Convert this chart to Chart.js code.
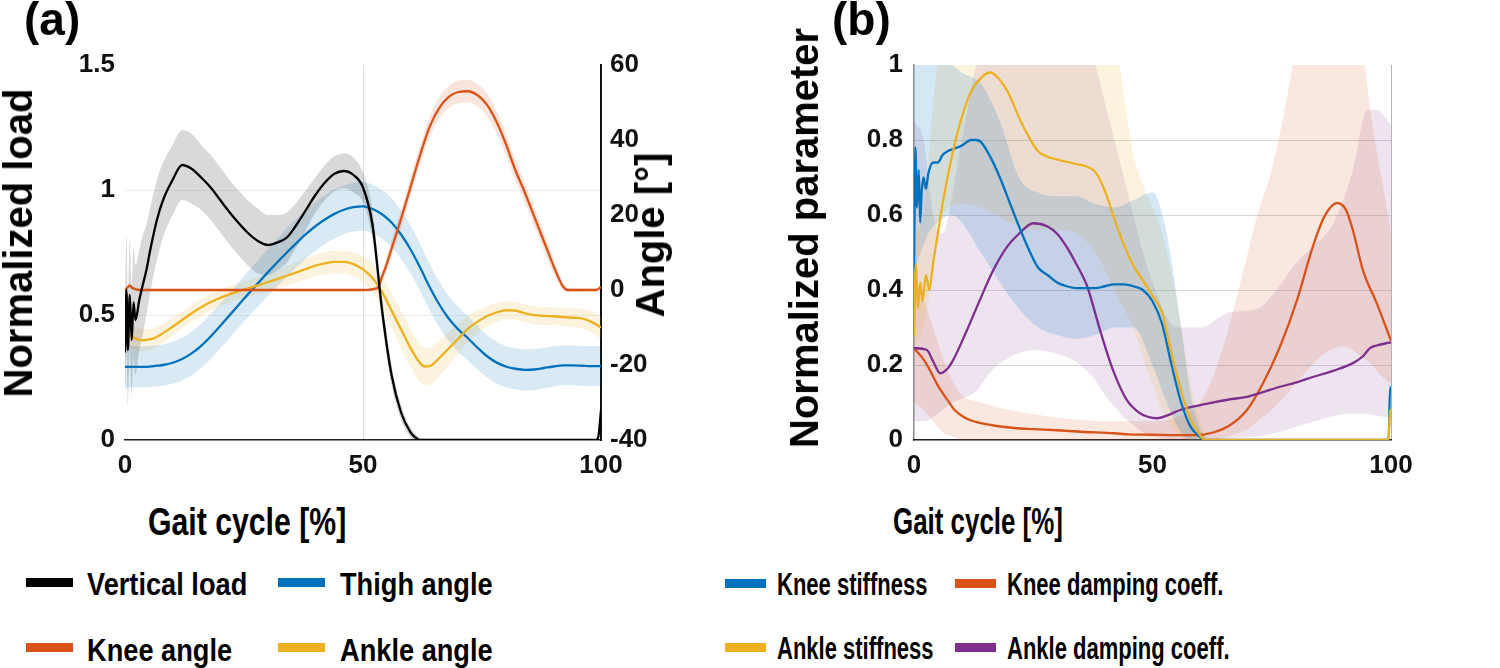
<!DOCTYPE html>
<html><head><meta charset="utf-8">
<script src="https://cdn.jsdelivr.net/npm/chart.js@4.4.0/dist/chart.umd.min.js"></script>
<style>
html,body{margin:0;padding:0;background:#fff;}
#wrap{position:relative;width:1500px;height:668px;overflow:hidden;background:#fff;font-family:'Liberation Sans',Arial,Helvetica,sans-serif;font-weight:bold;color:#000;}
canvas{position:absolute;top:0;}
.t{position:absolute;white-space:nowrap;line-height:1;transform-origin:0 0;}
.r{position:absolute;white-space:nowrap;line-height:1;transform:translate(-50%,-50%) rotate(-90deg);}
.sw{position:absolute;}
</style></head><body>
<div id="wrap">
<canvas id="ca" width="700" height="500" style="left:0px"></canvas>
<canvas id="cb" width="700" height="500" style="left:740px"></canvas>
<div class="t" style="left:24px;top:-4px;font-size:46px">(a)</div>
<div class="t" style="left:832px;top:-4px;font-size:46px">(b)</div>
<div class="r" style="left:18px;top:243px;font-size:40px">Normalized load</div>
<div class="r" style="left:650px;top:235px;font-size:40px">Angle [°]</div>
<div class="r" style="left:804px;top:238px;font-size:40px">Normalized parameter</div>
<div class="t" style="left:148px;top:502px;font-size:39px;transform:scaleX(0.775)">Gait cycle [%]</div>
<div class="t" style="left:893px;top:503px;font-size:37px;transform:scaleX(0.70)">Gait cycle [%]</div>
<div id="legends"></div>
</div>
<script>
// ---------- Panel (a) data ----------
const loadX = [0,0.3,0.6,1,1.4,1.8,2.2,3,3.6,4.5,5.3,6.7,8,10,12,14,16,18,20,22,24,26,28,30,32,34,36,38,40,42,44,46,48,50,52,54,56,58,60,61,62,70,80,90,99,99.5,100];
const loadY = [0.35,0.6,0.36,0.58,0.4,0.55,0.48,0.56,0.61,0.68,0.76,0.88,0.96,1.04,1.10,1.085,1.05,1.01,0.96,0.91,0.865,0.825,0.795,0.78,0.79,0.81,0.86,0.92,0.98,1.03,1.065,1.076,1.06,1.01,0.86,0.52,0.26,0.11,0.03,0.01,0,0,0,0,0,0.02,0.12];
const loadSD = [0.22,0.22,0.22,0.22,0.22,0.22,0.22,0.2,0.2,0.18,0.17,0.16,0.15,0.14,0.14,0.14,0.13,0.13,0.13,0.13,0.13,0.13,0.13,0.12,0.11,0.1,0.09,0.08,0.07,0.07,0.07,0.07,0.07,0.06,0.06,0.05,0.04,0.03,0.02,0.015,0.005,0,0,0,0,0,0];

const kneeX = [0,0.5,1,1.5,2,3,50,53,54,55,56,57,58,60,62,64,66,68,70,72,74,76,78,80,82,84,86,88,90,91,92,93,99,100];
const kneeY = [0,0.6,1.2,0.6,0.3,0,0,0.5,3.5,7,11,15,19,27.5,36,43.5,48.5,51.5,52.8,53,52,49.5,45,39,32,26,19.5,13,6.5,3.5,1,0,0,0.8];
const kneeSD = [0.4,0.4,0.4,0.4,0.3,0.3,0.3,0.8,1.5,2,2.3,2.5,2.5,2.6,2.7,2.8,2.9,3,3,3,3,3,3,2.9,2.8,2.7,2.6,2.5,2,1.5,1,0.5,0.4,0.5];

const thighX = [0,2,4,6,8,10,12,14,16,18,20,22,24,26,28,30,32,34,36,38,40,42,44,46,48,50,52,54,56,58,60,62,64,66,68,70,72,74,76,78,80,82,84,86,88,90,92,94,96,98,100];
const thighY = [-20.5,-20.5,-20.5,-20.3,-20,-19.4,-18.4,-16.9,-14.9,-12.4,-9.6,-6.7,-3.8,-0.9,1.9,4.7,7.4,10,12.5,14.9,17,18.8,20.3,21.4,22.1,22.3,21.6,20.2,18,14.8,10.8,6,0.8,-3.8,-7.6,-10.5,-12.8,-15.3,-17.6,-19.3,-20.4,-21,-21.3,-21.2,-20.8,-20.4,-20.1,-20.1,-20.2,-20.3,-20.3];
const thighSD = [5.5,5.5,5.5,5.5,5.5,5.6,5.7,5.8,5.9,6,6,6,6,6.1,6.2,6.3,6.4,6.5,6.5,6.5,6.5,6.5,6.5,6.5,6.5,6.5,6.5,6.5,6.5,6.5,6.4,6.3,6.2,6.1,6,6,5.9,5.8,5.7,5.6,5.5,5.5,5.5,5.5,5.4,5.4,5.3,5.3,5.3,5.3,5.3];

const ankleX = [0,1,2,3,4,5,6,8,10,12,14,16,18,20,22,24,26,28,30,32,34,36,38,40,42,44,46,48,50,52,54,56,58,60,62,63,64,66,68,70,72,74,76,78,80,82,84,86,88,90,92,94,96,98,100];
const ankleY = [-10.7,-12,-12.8,-13.3,-13.4,-13.2,-12.9,-11.5,-9.8,-8,-6.2,-4.6,-3.2,-2.1,-1.1,-0.3,0.5,1.3,2.1,2.9,3.8,4.7,5.6,6.5,7.1,7.5,7.5,6.9,5.5,3.2,-0.5,-5.5,-10.5,-15.5,-19.5,-20.4,-20.3,-18.2,-15.6,-13,-10.4,-8.5,-7,-6,-5.4,-5.5,-6.2,-6.7,-6.9,-7,-7.2,-7.4,-7.6,-8.5,-10];
const ankleSD = [3,3,3,3,3,2.8,2.7,2.5,2.4,2.3,2.2,2.2,2.2,2.2,2.2,2.2,2.2,2.3,2.4,2.5,2.6,2.7,2.8,2.9,3,3,3,3.2,3.5,3.8,4.2,4.6,5,5,5,5,5,4.8,4.4,4,3.5,3,2.7,2.5,2.4,2.4,2.4,2.4,2.4,2.4,2.4,2.5,2.6,2.8,3];

// ---------- Panel (b) data ----------
const ksX = [0,0.3,0.6,1,1.3,1.6,2,2.5,3,4,5,6,7,8,10,12,13,14,16,18,20,22,24,26,28,30,32,34,36,38,40,42,44,46,48,50,52,54,56,58,60,61,70,80,90,99,99.5,99.8,100];
const ksY = [0.45,0.78,0.62,0.72,0.58,0.66,0.70,0.67,0.71,0.74,0.74,0.76,0.77,0.775,0.785,0.80,0.80,0.795,0.755,0.70,0.635,0.57,0.51,0.46,0.44,0.42,0.41,0.405,0.405,0.405,0.41,0.415,0.415,0.41,0.4,0.37,0.31,0.2,0.1,0.035,0.008,0,0,0,0,0,0,0.14,0.14];
const ksBX = [0,3,5,8,10,14,18,22,26,30,34,38,42,46,50,53,56,58,60,62,100];
const ksLo = [0.45,0.55,0.58,0.6,0.58,0.5,0.42,0.35,0.3,0.28,0.27,0.28,0.3,0.3,0.2,0.1,0.02,0,0,0,0];
const ksHi = [1.4,1.3,1.05,1.0,0.98,0.95,0.85,0.7,0.66,0.65,0.65,0.63,0.62,0.64,0.66,0.55,0.3,0.12,0.03,0,0];

const asX = [0,0.4,0.8,1.3,1.8,2.5,3.2,4,5,6,8,10,12,14,16,18,20,22,24,26,28,30,32,34,36,38,40,42,44,46,48,50,52,54,56,57,58,60,61,80,99.5,99.8,100];
const asY = [0.28,0.47,0.35,0.42,0.37,0.44,0.40,0.47,0.55,0.63,0.76,0.86,0.93,0.965,0.98,0.96,0.92,0.86,0.81,0.77,0.755,0.748,0.742,0.736,0.73,0.715,0.665,0.59,0.52,0.465,0.425,0.385,0.34,0.23,0.13,0.09,0.055,0.012,0,0,0,0.08,0.08];
const asBX = [0,2,4,6,10,14,20,26,32,38,42,44,46,48,50,52,55,58,61,62,100];
const asLo = [0.25,0.3,0.45,0.6,0.63,0.62,0.58,0.56,0.56,0.5,0.4,0.35,0.3,0.22,0.15,0.08,0.02,0,0,0,0];
const asHi = [0.55,0.6,0.9,1.1,1.3,1.4,1.4,1.4,1.4,1.3,1.1,0.92,0.76,0.68,0.62,0.55,0.38,0.15,0.02,0,0];

const kdX = [0,2,3.3,5,7,8.5,10.3,12,14,17,21,25,30,35,42,45,50,55,59,62.7,66.3,69.8,73.2,76.7,80.3,83.6,86,88.7,90.5,92,94.1,97,100];
const kdY = [0.245,0.215,0.187,0.145,0.107,0.08,0.062,0.052,0.045,0.038,0.032,0.029,0.026,0.022,0.018,0.015,0.014,0.013,0.013,0.02,0.04,0.08,0.152,0.248,0.373,0.515,0.595,0.632,0.615,0.56,0.453,0.365,0.265];
const kdBX = [0,2,4,6,8,10,14,20,30,40,50,55,60,63,66,70,72,75,78,80,85,90,94,96,98,100];
const kdLo = [0.1,0.08,0.05,0.02,0.01,0,0,0,0,0,0,0,0,0,0.01,0.03,0.05,0.08,0.12,0.15,0.22,0.25,0.22,0.2,0.17,0.15];
const kdHi = [0.4,0.37,0.3,0.22,0.16,0.12,0.1,0.08,0.06,0.05,0.05,0.06,0.1,0.18,0.3,0.5,0.6,0.72,0.9,1.05,1.4,1.4,1.05,0.85,0.7,0.55];

const adX = [0,2.7,4,5.5,7,8.2,11,13.8,16.5,19.5,22,25,27.9,30,32,34,36.3,39,41.7,44.6,47.3,49,51,53,55.8,60,62.7,66,69.8,73,76.7,80,83.6,88,92,94,95.6,97,99,100];
const adY = [0.245,0.24,0.21,0.178,0.19,0.213,0.29,0.373,0.45,0.515,0.55,0.578,0.57,0.55,0.515,0.47,0.41,0.293,0.187,0.107,0.072,0.062,0.058,0.065,0.08,0.093,0.1,0.108,0.115,0.127,0.142,0.153,0.168,0.185,0.205,0.222,0.245,0.252,0.258,0.26];
const adBX = [0,2,4,6,8,10,13,16,20,25,30,35,38,40,42,44,46,48,50,55,60,66,72,76,80,84,88,92,95,97,100];
const adLo = [0.05,0.05,0.06,0.08,0.1,0.11,0.13,0.18,0.22,0.24,0.23,0.2,0.16,0.12,0.09,0.06,0.04,0.02,0.01,0,0,0.005,0.01,0.02,0.035,0.05,0.065,0.07,0.07,0.065,0.06];
const adHi = [0.85,0.8,0.6,0.55,0.65,0.8,1.0,1.2,1.3,1.3,1.25,1.1,1.0,0.9,0.8,0.7,0.6,0.5,0.42,0.3,0.3,0.34,0.35,0.4,0.47,0.52,0.58,0.72,0.88,0.88,0.84];

// ticks
const xTicks = [0,50,100];
const loadTicks = [0,0.5,1,1.5];
const angleTicks = [-40,-20,0,20,40,60];
const paramTicks = [0,0.2,0.4,0.6,0.8,1];

// legend names
const legendA = [["Vertical load","#000000"],["Thigh angle","#0072BD"],["Knee angle","#D95319"],["Ankle angle","#EDB120"]];
const legendB = [["Knee stiffness","#0072BD"],["Knee damping coeff.","#D95319"],["Ankle stiffness","#EDB120"],["Ankle damping coeff.","#7E2F8E"]];

// ---------- helpers ----------
const F = "'Liberation Sans', Arial, Helvetica, sans-serif";
const tickFont = {family: F, size: 26, weight: 'bold'};
const fmt = v => String(Math.round(v * 1000) / 1000);
function pts(xs, ys){ return xs.map((x,i)=>({x:x, y:ys[i]})); }
function line(label, xs, ys, color, axis, order){
  return {label, data: pts(xs,ys), borderColor: color, borderWidth: 2.3, pointRadius: 0, fill: false,
    cubicInterpolationMode: 'monotone', yAxisID: axis, order};
}
function band(xs, lo, hi, color, axis, order){
  return [
    {label:'lo', data: pts(xs,lo), borderWidth:0, borderColor:'rgba(0,0,0,0)', pointRadius:0, fill:false, cubicInterpolationMode:'monotone', yAxisID:axis, order},
    {label:'hi', data: pts(xs,hi), borderWidth:0, borderColor:'rgba(0,0,0,0)', pointRadius:0, fill:'-1', backgroundColor: color, cubicInterpolationMode:'monotone', yAxisID:axis, order}
  ];
}
function sdBand(xs, m, sd, color, axis, order){
  return band(xs, m.map((v,i)=>v-sd[i]), m.map((v,i)=>v+sd[i]), color, axis, order);
}
function tickCb(list){ return function(scale){ scale.ticks = list.map(v=>({value:v})); }; }

// ---------- Chart (a) ----------
new Chart(document.getElementById('ca'), {
  type: 'line',
  data: { datasets: [
    line('Vertical load', loadX, loadY, '#000000', 'yL', 0),
    line('Knee angle', kneeX, kneeY, '#D95319', 'yR', 1),
    line('Ankle angle', ankleX, ankleY, '#EDB120', 'yR', 2),
    line('Thigh angle', thighX, thighY, '#0072BD', 'yR', 3),
    ...sdBand(loadX, loadY, loadSD, 'rgba(0,0,0,0.15)', 'yL', 10),
    ...sdBand(thighX, thighY, thighSD, 'rgba(0,114,189,0.15)', 'yR', 11),
    ...sdBand(ankleX, ankleY, ankleSD, 'rgba(237,177,32,0.15)', 'yR', 12),
    ...sdBand(kneeX, kneeY, kneeSD, 'rgba(217,83,25,0.15)', 'yR', 13)
  ]},
  options: {
    responsive: false, animation: false, events: [],
    layout: {padding: {top: 65, left: 0, right: 0, bottom: 0}},
    plugins: {legend: {display: false}, tooltip: {enabled: false}},
    scales: {
      x: {type: 'linear', position: 'bottom', min: 0, max: 100,
        afterFit: s => { s.height = 60; }, afterBuildTicks: tickCb(xTicks),
        ticks: {padding: 10, font: tickFont, color: '#111', maxRotation: 0, autoSkip: false, callback: fmt},
        grid: {drawTicks: false, color: c => (c.tick && c.tick.value === 50) ? 'rgba(0,0,0,0.12)' : 'rgba(0,0,0,0)'},
        border: {display: true, color: '#222', width: 1.5}},
      yL: {type: 'linear', position: 'left', min: 0, max: 1.5,
        afterFit: s => { s.width = 125; }, afterBuildTicks: tickCb(loadTicks),
        ticks: {padding: 10, font: tickFont, color: '#111', callback: fmt},
        grid: {drawTicks: false, color: c => (c.tick && (c.tick.value === 0.5 || c.tick.value === 1)) ? 'rgba(0,0,0,0.07)' : 'rgba(0,0,0,0)'},
        border: {display: false}},
      yR: {type: 'linear', position: 'right', min: -40, max: 60,
        afterFit: s => { s.width = 99; }, afterBuildTicks: tickCb(angleTicks),
        ticks: {padding: 9, font: tickFont, color: '#111', callback: fmt},
        grid: {drawTicks: false, drawOnChartArea: false},
        border: {display: true, color: '#111', width: 2}}
    }
  }
});

// ---------- Chart (b) ----------
new Chart(document.getElementById('cb'), {
  type: 'line',
  data: { datasets: [
    line('Ankle stiffness', asX, asY, '#EDB120', 'y', 0),
    line('Knee stiffness', ksX, ksY, '#0072BD', 'y', 1),
    line('Ankle damping coeff.', adX, adY, '#7E2F8E', 'y', 2),
    line('Knee damping coeff.', kdX, kdY, '#D95319', 'y', 3),
    ...band(ksBX, ksLo, ksHi, 'rgba(0,114,189,0.17)', 'y', 10),
    ...band(asBX, asLo, asHi, 'rgba(237,177,32,0.15)', 'y', 11),
    ...band(kdBX, kdLo, kdHi, 'rgba(217,83,25,0.14)', 'y', 12),
    ...band(adBX, adLo, adHi, 'rgba(126,47,142,0.13)', 'y', 13)
  ]},
  options: {
    responsive: false, animation: false, events: [],
    layout: {padding: {top: 65, left: 0, right: 49, bottom: 0}},
    plugins: {legend: {display: false}, tooltip: {enabled: false}},
    scales: {
      x: {type: 'linear', position: 'bottom', min: 0, max: 100,
        afterFit: s => { s.height = 60; }, afterBuildTicks: tickCb(xTicks),
        ticks: {padding: 10, font: tickFont, color: '#111', maxRotation: 0, autoSkip: false, callback: fmt},
        grid: {drawTicks: false, color: c => (c.tick && c.tick.value === 100) ? 'rgba(0,0,0,0.3)' : 'rgba(0,0,0,0)'},
        border: {display: true, color: '#222', width: 1.5}},
      y: {type: 'linear', position: 'left', min: 0, max: 1,
        afterFit: s => { s.width = 174; }, afterBuildTicks: tickCb(paramTicks),
        ticks: {padding: 11, font: tickFont, color: '#111', callback: fmt},
        grid: {drawTicks: false, color: c => (c.tick && c.tick.value > 0.1 && c.tick.value < 0.9) ? 'rgba(0,0,0,0.16)' : 'rgba(0,0,0,0)'},
        border: {display: true, color: 'rgba(0,0,0,0.45)', width: 1.5}}
    }
  }
});

// ---------- Legends (HTML) ----------
(function(){
  const host = document.getElementById('legends');
  function add(items, cfg){
    items.forEach((it, i) => {
      const col = i % 2, row = Math.floor(i / 2);
      const sw = document.createElement('div');
      sw.className = 'sw';
      sw.style.cssText = `left:${cfg.swX[col]}px;top:${cfg.swY[row]}px;width:${cfg.swW}px;height:9px;background:${it[1]}`;
      host.appendChild(sw);
      const t = document.createElement('div');
      t.className = 't';
      t.textContent = it[0];
      t.style.cssText = `left:${cfg.txX[col]}px;top:${cfg.txY[row]}px;font-size:${cfg.fs}px;transform:scaleX(${cfg.sx})`;
      host.appendChild(t);
    });
  }
  add(legendA, {swX:[26,278], swY:[578,643], swW:47, txX:[87,340], txY:[568,634], fs:32, sx:0.85});
  add(legendB, {swX:[725,955], swY:[579,643], swW:41, txX:[777,1007], txY:[569,633], fs:31, sx:0.71});
})();
</script>
</body></html>
